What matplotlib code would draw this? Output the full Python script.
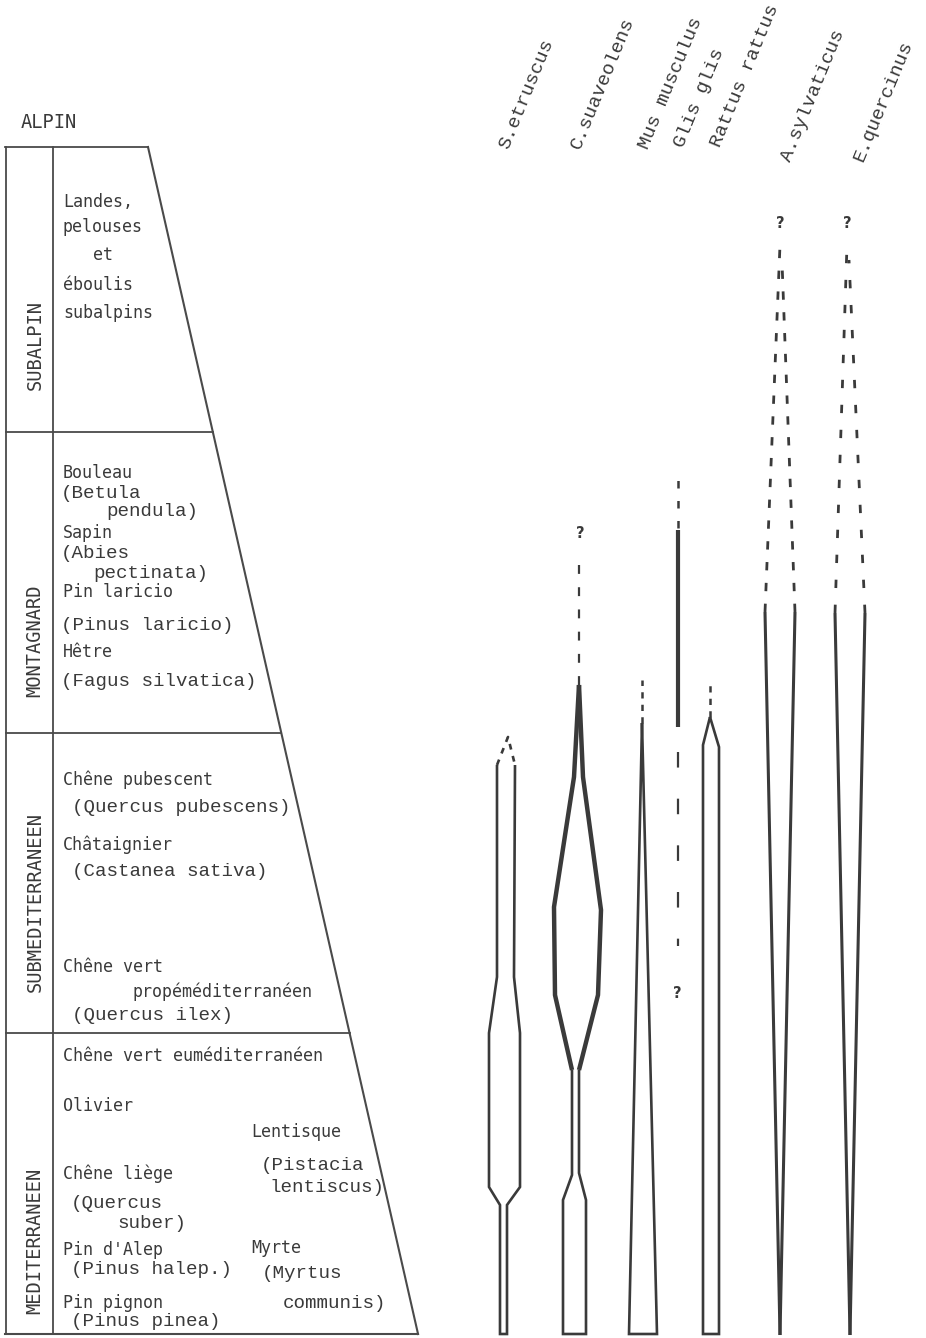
import numpy as np
import matplotlib.pyplot as plt

INK = '#3a3a3a'

# vegetation belts (left table)
zones = ["SUBALPIN", "MONTAGNARD", "SUBMEDITERRANEEN", "MEDITERRANEEN"]
zone_bounds = [147, 432, 733, 1033, 1334]
zone_label_y = [345, 641, 902, 1241]

# common names (sans mono) : text, x, y
plants = [
    ("Landes,", 63, 202), ("pelouses", 63, 227), ("et", 93, 255),
    ("éboulis", 63, 285), ("subalpins", 63, 313),
    ("Bouleau", 63, 473), ("Sapin", 63, 533), ("Pin laricio", 63, 592),
    ("Hêtre", 63, 652),
    ("Chêne pubescent", 63, 780), ("Châtaignier", 63, 845),
    ("Chêne vert", 63, 967), ("propéméditerranéen", 133, 992),
    ("Chêne vert euméditerranéen", 63, 1056), ("Olivier", 63, 1106),
    ("Lentisque", 251, 1132), ("Chêne liège", 63, 1174),
    ("Pin d'Alep", 63, 1250), ("Myrte", 251, 1248), ("Pin pignon", 63, 1303),
]
# latin names (typewriter)
latin = [
    ("(Betula", 61, 494), ("pendula)", 106, 512),
    ("(Abies", 61, 554), ("pectinata)", 93, 574),
    ("(Pinus laricio)", 61, 625), ("(Fagus silvatica)", 61, 681),
    ("(Quercus pubescens)", 72, 807), ("(Castanea sativa)", 72, 872),
    ("(Quercus ilex)", 72, 1015),
    ("(Pistacia", 261, 1166), ("lentiscus)", 269, 1188),
    ("(Quercus", 71, 1204), ("suber)", 117, 1223),
    ("(Pinus halep.)", 71, 1270), ("(Myrtus", 262, 1273),
    ("communis)", 283, 1303), ("(Pinus pinea)", 71, 1322),
]

# species columns
species = ["S.etruscus", "C.suaveolens", "Mus musculus", "Glis glis",
           "Rattus rattus", "A.sylvaticus", "E.quercinus"]
label_x = [508, 580, 648, 683, 720, 790, 863]
label_y = [150, 150, 150, 148, 148, 162, 162]

# outlines (x, y)
etr_left = [(500, 1334), (500, 1205), (489, 1187), (489, 1033), (497, 977), (497, 765)]
etr_right = [(507, 1334), (507, 1205), (520, 1187), (520, 1033), (514, 977), (515, 765)]
etr_dash = [(497, 765), (508, 737), (515, 765)]

sua_stem_left = [(563, 1334), (563, 1200), (572, 1175), (572, 1070)]
sua_stem_right = [(586, 1334), (586, 1200), (579, 1173), (579, 1070)]
sua_body_left = [(572, 1070), (555, 995), (554, 907), (574, 777), (579, 685)]
sua_body_right = [(579, 1070), (598, 995), (601, 910), (583, 777), (579, 685)]
sua_dash = [(579, 685), (579, 560)]

mus_left = [(629, 1334), (642, 723)]
mus_right = [(657, 1334), (642, 723)]
mus_dash = [(642, 723), (642, 680)]

gli_solid = [(678, 530), (678, 727)]
gli_dash_top = [(678, 528), (678, 470)]
gli_dash_low = [(678, 752), (678, 946)]

rat_left = [(703, 1334), (703, 745), (710, 717)]
rat_right = [(719, 1334), (719, 747), (710, 717)]
rat_dash = [(710, 717), (710, 680)]

syl_left = [(765, 612), (780, 1335)]
syl_right = [(795, 612), (780, 1335)]
syl_dash_left = [(765, 612), (780, 245)]
syl_dash_right = [(795, 612), (782, 262)]

que_left = [(835, 613), (850, 1335)]
que_right = [(865, 613), (850, 1335)]
que_dash_left = [(835, 613), (847, 245)]
que_dash_right = [(865, 613), (849, 260)]

queries = [(580, 533), (677, 993), (780, 223), (847, 224)]

fig = plt.figure(figsize=(9.26, 13.38), dpi=100)
ax = fig.add_axes([0, 0, 1, 1])
ax.set_xlim(0, 926)
ax.set_ylim(1338, 0)
ax.axis('off')


def edge_x(y):
    # slanted right border of the table
    return 148 + (y - 147) * 0.2275


def line(pts, lw=1.9, dashes=None, color=INK):
    p = np.array(pts, dtype=float)
    l, = ax.plot(p[:, 0], p[:, 1], color=color, lw=lw,
                 solid_joinstyle='miter', solid_capstyle='butt',
                 dash_capstyle='butt')
    if dashes is not None:
        l.set_dashes(dashes)
    return l


# --- table ---
tl = '#4a4a4a'
ax.plot([5, 148], [147, 147], color=tl, lw=1.3)
ax.plot([6, 6], [147, 1334], color=tl, lw=1.3)
ax.plot([53, 53], [147, 1334], color=tl, lw=1.3)
ax.plot([edge_x(147), edge_x(1334)], [147, 1334], color=tl, lw=1.5)
for b in zone_bounds[1:-1]:
    ax.plot([6, edge_x(b)], [b, b], color=tl, lw=1.3)
ax.plot([5, edge_x(1334)], [1334, 1334], color=tl, lw=1.5)

ax.text(21, 122, "ALPIN", family='DejaVu Sans Mono', fontsize=13.5,
        color=INK, va='center', ha='left')
for name, yc in zip(zones, zone_label_y):
    ax.text(35, yc, name, family='DejaVu Sans Mono', fontsize=13.5,
            color=INK, rotation=90, ha='center', va='center')
for t, x, y in plants:
    ax.text(x, y, t, family='DejaVu Sans Mono', fontsize=12,
            color=INK, ha='left', va='center')
for t, x, y in latin:
    ax.text(x, y, t, family='Liberation Mono', fontsize=13.8,
            color=INK, ha='left', va='center')

# --- species labels ---
for name, x, y in zip(species, label_x, label_y):
    ax.text(x, y, name, family='Liberation Mono', fontsize=14, color=INK,
            rotation=67.5, rotation_mode='anchor', ha='left', va='baseline')

# --- species ranges ---
small_dash = (3, 5)

# S.etruscus
line(etr_left[::-1] + etr_right)
line(etr_dash, lw=1.9, dashes=(2.2, 2.5))

# C.suaveolens
line(sua_stem_left[::-1] + sua_stem_right)
line(sua_body_left, lw=3.2)
line(sua_body_right, lw=3.2)
line(sua_dash, lw=1.6, dashes=(4, 6))

# Mus musculus
line(mus_left[::-1] + mus_right)
line(mus_dash, lw=1.8, dashes=(2.5, 2.5))

# Glis glis
line(gli_solid, lw=3.0)
line(gli_dash_top, lw=1.8, dashes=small_dash)
line(gli_dash_low, lw=1.6, dashes=(7, 14))

# Rattus rattus
line(rat_left[::-1] + rat_right)
line(rat_dash, lw=1.8, dashes=(2.5, 2.5))

# A.sylvaticus
line(syl_left, lw=2.2)
line(syl_right, lw=2.2)
line(syl_dash_left, lw=2.0, dashes=(3, 4.5))
line(syl_dash_right, lw=2.0, dashes=(3, 4.5))

# E.quercinus
line(que_left, lw=2.2)
line(que_right, lw=2.2)
line(que_dash_left, lw=2.0, dashes=(3, 6))
line(que_dash_right, lw=2.0, dashes=(3, 6))

for x, y in queries:
    ax.text(x, y, "?", family='DejaVu Sans', fontsize=10.5, fontweight='bold',
            color=INK, ha='center', va='center')

fig.savefig('out.png', dpi=100, facecolor='white')
